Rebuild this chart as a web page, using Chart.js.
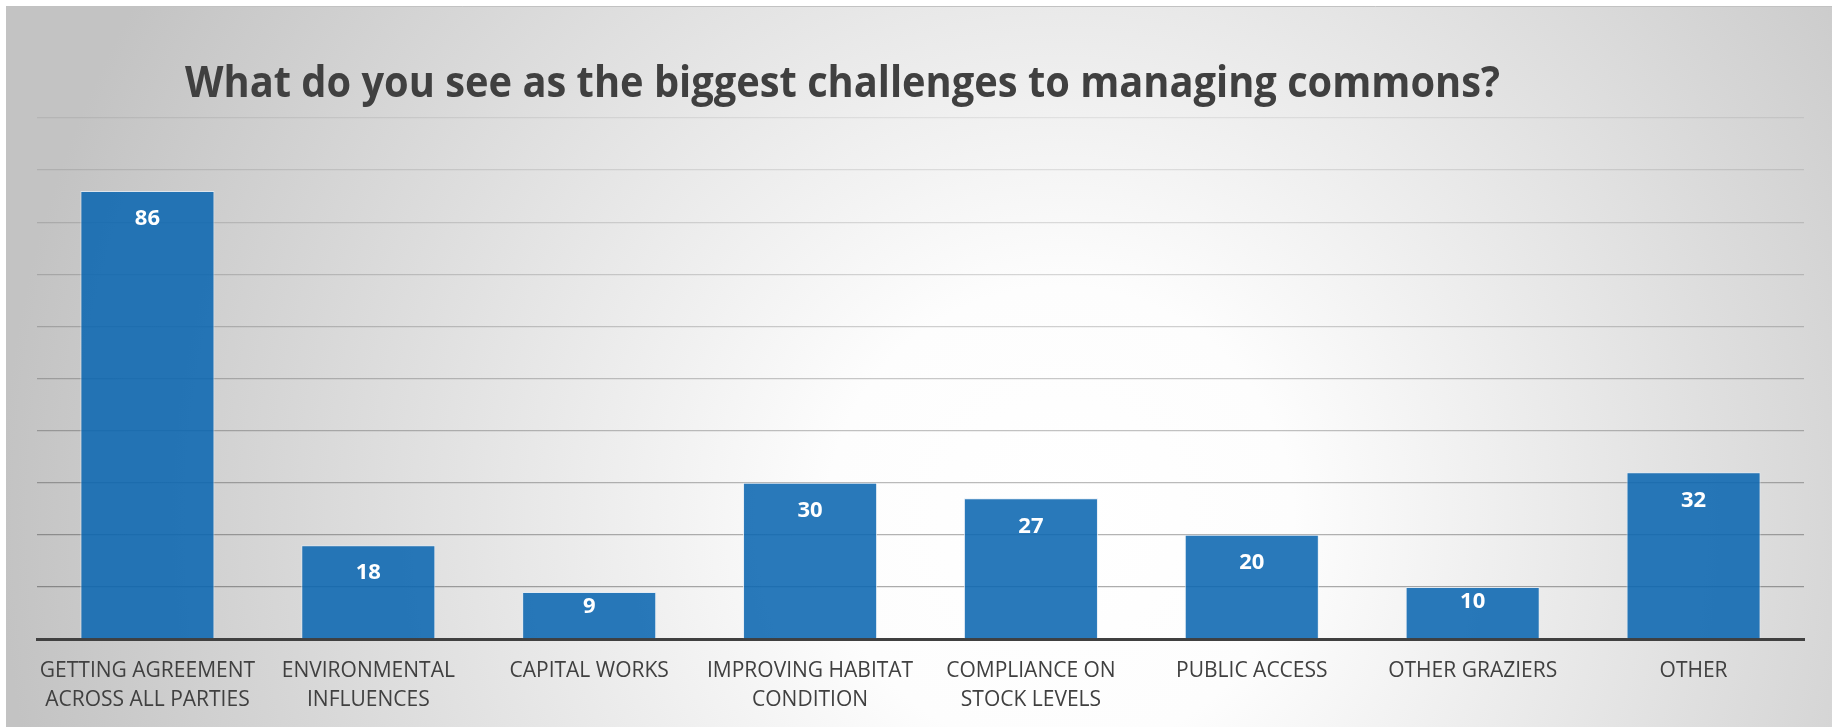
<!DOCTYPE html>
<html>
<head>
<meta charset="utf-8">
<title>Challenges to managing commons</title>
<script src="https://cdn.jsdelivr.net/npm/chart.js@4"></script>
<style>
  html, body { margin: 0; padding: 0; background: #fff; }
  canvas { display: block; }
</style>
</head>
<body>
<canvas id="challengesChart" width="1832" height="727"></canvas>
<script>
const chartTitle = "What do you see as the biggest challenges to managing commons?";

const categories = [
  ["GETTING AGREEMENT", "ACROSS ALL PARTIES"],
  ["ENVIRONMENTAL", "INFLUENCES"],
  "CAPITAL WORKS",
  ["IMPROVING HABITAT", "CONDITION"],
  ["COMPLIANCE ON", "STOCK LEVELS"],
  "PUBLIC ACCESS",
  "OTHER GRAZIERS",
  "OTHER"
];

const responses = [86, 18, 9, 30, 27, 20, 10, 32];

const yMin = 0;
const yMax = 100;
const yStep = 10;

const textColor = "#404040";
const fontFamily = "'Open Sans', 'Noto Sans', sans-serif";

// soft radial background + title, drawn before everything else
const backdrop = {
  id: "backdrop",
  beforeDraw(chart) {
    const ctx = chart.ctx;
    const w = chart.width, h = chart.height;
    ctx.save();
    ctx.fillStyle = "#ffffff";
    ctx.fillRect(0, 0, w, h);

    const g = ctx.createRadialGradient(1060, 520, 0, 1060, 520, 1060);
    g.addColorStop(0, "#ffffff");
    g.addColorStop(0.22, "#fdfdfd");
    g.addColorStop(1, "#c3c3c3");
    ctx.fillStyle = g;
    ctx.fillRect(6, 6, w - 6, h - 6);

    ctx.strokeStyle = "#c2c2c2";
    ctx.lineWidth = 1;
    ctx.beginPath();
    ctx.moveTo(6, 6.5);
    ctx.lineTo(w, 6.5);
    ctx.stroke();

    // title, squeezed a little so it spans like the original Calibri
    ctx.font = "bold 43px " + fontFamily;
    ctx.fillStyle = textColor;
    ctx.textBaseline = "alphabetic";
    ctx.textAlign = "left";
    const sx = 1315 / ctx.measureText(chartTitle).width;
    ctx.translate(185, 97);
    ctx.scale(Math.min(sx, 1), 1);
    ctx.fillText(chartTitle, 0, 0);
    ctx.restore();
  }
};

// white value labels near the top of each bar
const barValues = {
  id: "barValues",
  afterDatasetsDraw(chart) {
    const ctx = chart.ctx;
    const meta = chart.getDatasetMeta(0);
    ctx.save();
    ctx.font = "bold 22px " + fontFamily;
    ctx.fillStyle = "#ffffff";
    ctx.textAlign = "center";
    ctx.textBaseline = "middle";
    meta.data.forEach((bar, i) => {
      const barHeight = bar.base - bar.y;
      const offset = barHeight > 60 ? 28 : 15;
      ctx.fillText(String(responses[i]), bar.x, bar.y + offset);
    });
    ctx.restore();
  }
};

new Chart(document.getElementById("challengesChart").getContext("2d"), {
  type: "bar",
  data: {
    labels: categories,
    datasets: [{
      data: responses,
      backgroundColor: "rgba(11, 102, 177, 0.88)",
      borderColor: "rgba(225, 235, 245, 0.8)",
      borderWidth: 1,
      barPercentage: 0.607,
      categoryPercentage: 1
    }]
  },
  options: {
    responsive: false,
    animation: false,
    layout: {
      padding: { left: 37, right: 28, top: 118, bottom: 0 }
    },
    plugins: {
      legend: { display: false },
      title: { display: false },
      tooltip: { enabled: false }
    },
    scales: {
      x: {
        afterFit: axis => { axis.height = 88; },
        grid: { display: false, drawTicks: false },
        border: { display: true, color: "#404040", width: 3 },
        ticks: {
          color: textColor,
          padding: 18,
          maxRotation: 0,
          autoSkip: false,
          font: { family: fontFamily, size: 21, lineHeight: 1.35 }
        }
      },
      y: {
        min: yMin,
        max: yMax,
        ticks: { display: false, stepSize: yStep },
        border: { display: false },
        grid: {
          drawTicks: false,
          lineWidth: 1.3,
          color: c => {
            const v = c.tick ? c.tick.value : 0;
            if (v === 0) return "rgba(0,0,0,0)";
            const a = 0.07 + 0.28 * (1 - v / yMax);
            return "rgba(0,0,0," + a.toFixed(3) + ")";
          }
        }
      }
    }
  },
  plugins: [backdrop, barValues]
});
</script>
</body>
</html>
